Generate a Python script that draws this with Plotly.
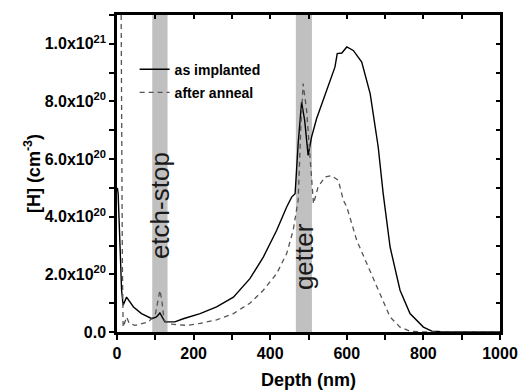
import plotly.graph_objects as go

# Data (depth in nm, [H] in cm^-3)
implanted_depth = [1, 3, 8, 12, 16, 25, 43, 64, 91, 103, 112, 125, 151, 173, 217, 260, 304, 347, 382, 417,
                   443, 456, 465, 473, 482, 490, 499, 508, 521, 547, 569, 575, 587, 600, 617, 639, 661,
                   682, 695, 713, 739, 765, 800, 822, 860, 1000]
implanted_val = [5.0e20, 4.8e20, 2.95e20, 1.45e20, 0.93e20, 1.21e20, 0.87e20, 0.64e20, 0.46e20, 0.52e20,
                 0.66e20, 0.35e20, 0.35e20, 0.46e20, 0.64e20, 0.87e20, 1.21e20, 1.85e20, 2.6e20, 3.53e20,
                 4.34e20, 4.68e20, 4.8e20, 6.53e20, 7.98e20, 7.34e20, 6.13e20, 6.76e20, 7.4e20, 8.38e20,
                 9.19e20, 9.66e20, 9.68e20, 9.89e20, 9.77e20, 9.37e20, 8.27e20, 6.42e20, 4.8e20, 2.95e20,
                 1.45e20, 0.64e20, 0.17e20, 0.03e20, 0.0, 0.0]

anneal_depth = [9, 11, 12, 14, 16, 20, 25, 32, 47, 82, 100, 112, 117, 123, 143, 182, 217, 260, 304, 347,
                382, 417, 443, 460, 473, 480, 486, 495, 504, 513, 525, 543, 560, 578, 591, 600, 626, 652,
                669, 691, 713, 739, 765, 800, 1000]
anneal_val = [1.6e21, 8.0e20, 5.3e20, 2.5e20, 0.17e20, 0.3e20, 0.52e20, 0.3e20, 0.23e20, 0.35e20, 0.6e20,
              1.45e20, 1.1e20, 0.4e20, 0.27e20, 0.23e20, 0.3e20, 0.42e20, 0.64e20, 1.0e20, 1.45e20,
              2.03e20, 2.72e20, 3.53e20, 4.57e20, 7.11e20, 8.62e20, 7.69e20, 5.96e20, 4.45e20, 5.03e20,
              5.38e20, 5.43e20, 5.26e20, 4.57e20, 4.34e20, 3.18e20, 2.37e20, 1.9e20, 1.21e20, 0.52e20,
              0.17e20, 0.03e20, 0.0, 0.0]

bands = [(92, 132), (467, 509)]
band_labels = ["etch-stop", "getter"]
band_label_y = [4.4e20, 2.63e20]

x_range = [0, 1000]
y_range = [0, 1.1e21]
x_ticks = [0, 200, 400, 600, 800, 1000]
y_ticks = [0, 2e20, 4e20, 6e20, 8e20, 1e21]
y_ticktext = ["0.0", "2.0x10<sup>20</sup>", "4.0x10<sup>20</sup>", "6.0x10<sup>20</sup>",
              "8.0x10<sup>20</sup>", "1.0x10<sup>21</sup>"]

FONT = "Liberation Sans, Arial, sans-serif"

fig = go.Figure()
fig.add_trace(go.Scatter(x=implanted_depth, y=implanted_val, mode="lines", name="<b>as implanted</b>",
                         line=dict(color="black", width=1.4), legendgroup="a"))
fig.add_trace(go.Scatter(x=anneal_depth, y=anneal_val, mode="lines", name="<b>after anneal</b>",
                         line=dict(color="#555555", width=1.3, dash="5px,4px"), legendgroup="b"))
# invisible helper trace so the mirrored (top/right) axes get drawn
fig.add_trace(go.Scatter(x=x_range, y=y_range, xaxis="x2", yaxis="y2", mode="lines",
                         line=dict(color="rgba(0,0,0,0)", width=0), showlegend=False, hoverinfo="skip"))

for (x0, x1) in bands:
    fig.add_shape(type="rect", xref="x", yref="paper", x0=x0, x1=x1, y0=0, y1=1,
                  fillcolor="#c0c0c0", line=dict(width=0), layer="below")
for (x0, x1), lab, ly in zip(bands, band_labels, band_label_y):
    fig.add_annotation(x=(x0 + x1) / 2, y=ly, text=lab, textangle=-90, showarrow=False,
                       font=dict(family=FONT, size=26, color="#1a1a1a"))

axis_common = dict(showline=True, linecolor="black", linewidth=2.5, showgrid=False, zeroline=False,
                   tickcolor="black", tickwidth=2, ticklen=5, automargin=False,
                   tickfont=dict(family=FONT, size=16, color="black"))
mirror_common = dict(ticks="inside", showticklabels=False, showline=True, linecolor="black",
                     linewidth=2.5, showgrid=False, zeroline=False, tickcolor="black", tickwidth=2,
                     ticklen=4, automargin=False)

fig.update_layout(
    width=519, height=390,
    margin=dict(l=117, r=19, t=15, b=58),
    plot_bgcolor="white", paper_bgcolor="white",
    font=dict(family=FONT, color="black"),
    xaxis=dict(range=x_range, ticks="outside", tickvals=x_ticks, ticktext=[f"<b>{v}</b>" for v in x_ticks],
               minor=dict(dtick=100, ticks="outside", ticklen=5, tickwidth=2, tickcolor="black"),
               title=dict(text="<b>Depth (nm)</b>", font=dict(family=FONT, size=18), standoff=14),
               **axis_common),
    yaxis=dict(range=y_range, ticks="outside", tickvals=y_ticks,
               ticktext=[f"<b>{t}</b>" for t in y_ticktext],
               minor=dict(dtick=1e20, tick0=0, ticks="outside", ticklen=5, tickwidth=2, tickcolor="black"),
               title=dict(text="<b>[H] (cm<sup>-3</sup>)</b>", font=dict(family=FONT, size=18), standoff=0),
               **axis_common),
    xaxis2=dict(range=x_range, overlaying="x", side="top", dtick=100, tick0=0, **mirror_common),
    yaxis2=dict(range=y_range, overlaying="y", side="right", dtick=1e20, tick0=0, **mirror_common),
    legend=dict(x=0.046, y=0.878, xanchor="left", yanchor="top", bgcolor="rgba(0,0,0,0)",
                font=dict(family=FONT, size=14, color="black"), tracegroupgap=2),
    showlegend=True,
)

fig.write_html("out.html", config={"displayModeBar": False},
               post_script="document.body.style.margin='0';document.body.style.padding='0';")
